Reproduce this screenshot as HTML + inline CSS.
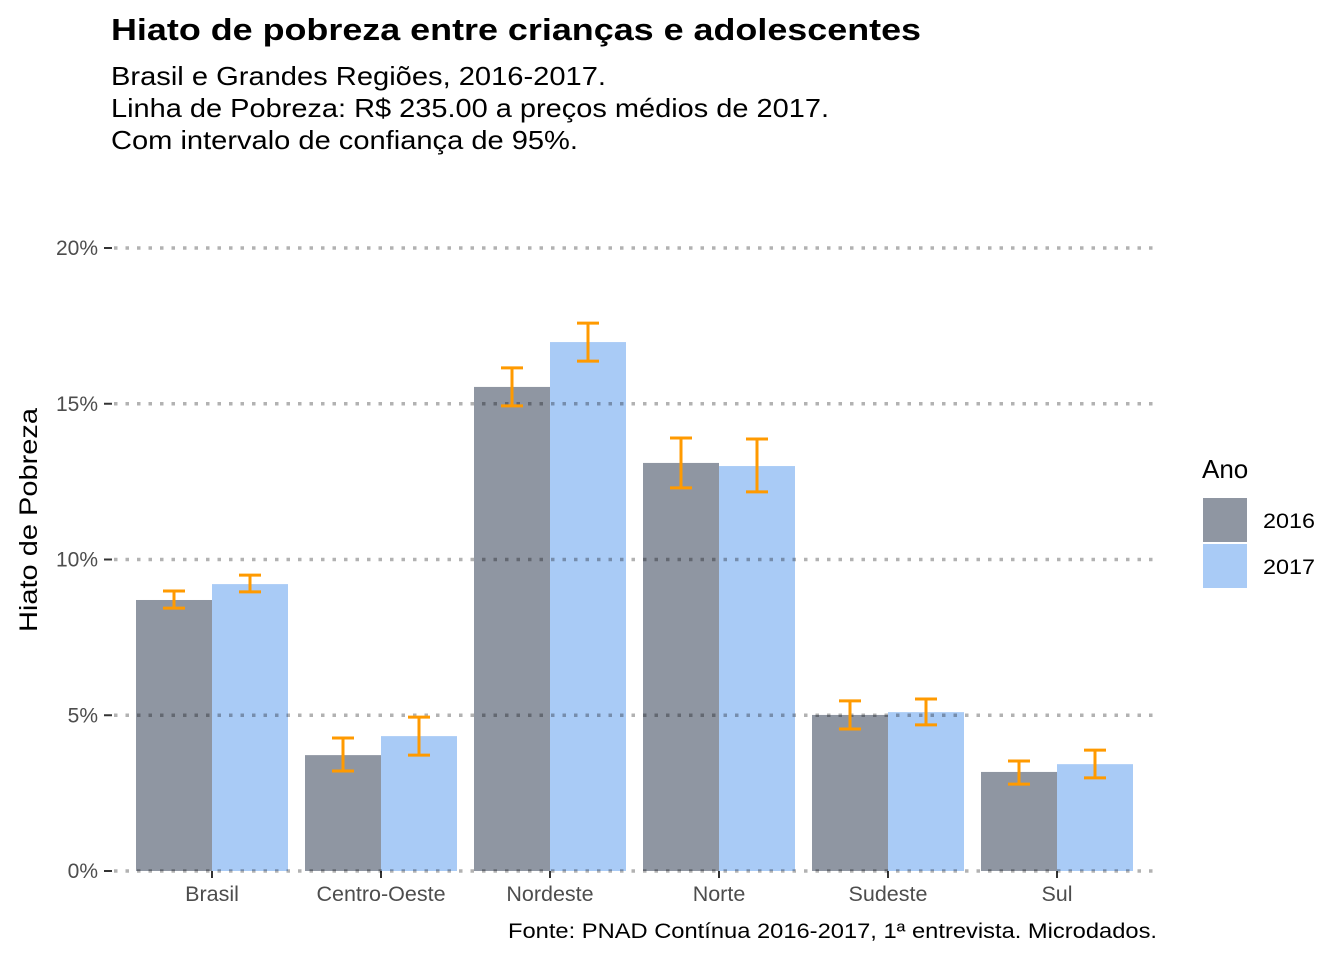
<!DOCTYPE html>
<html><head><meta charset="utf-8"><style>
body{margin:0;background:#fff;font-family:"Liberation Sans",sans-serif}
</style></head><body>
<svg width="1344" height="960" xmlns="http://www.w3.org/2000/svg" font-family="Liberation Sans, sans-serif">
<text x="111" y="40" font-size="31" font-weight="bold" textLength="810" lengthAdjust="spacingAndGlyphs">Hiato de pobreza entre crianças e adolescentes</text>
<text x="111" y="85" font-size="26" textLength="495" lengthAdjust="spacingAndGlyphs">Brasil e Grandes Regiões, 2016-2017.</text>
<text x="111" y="117" font-size="26" textLength="718" lengthAdjust="spacingAndGlyphs">Linha de Pobreza: R$ 235.00 a preços médios de 2017.</text>
<text x="111" y="149" font-size="26" textLength="467" lengthAdjust="spacingAndGlyphs">Com intervalo de confiança de 95%.</text>
<g id="plot"></g>
<text transform="translate(37,520) rotate(-90)" text-anchor="middle" font-size="25" textLength="224" lengthAdjust="spacingAndGlyphs">Hiato de Pobreza</text>
<text x="508" y="938" font-size="21" textLength="649" lengthAdjust="spacingAndGlyphs">Fonte: PNAD Contínua 2016-2017, 1ª entrevista. Microdados.</text>
<g>
<text x="1202" y="478" font-size="26">Ano</text>
<rect x="1203" y="498" width="44" height="44" fill="#8f96a2"/>
<text x="1263" y="528" font-size="21" textLength="52" lengthAdjust="spacingAndGlyphs">2016</text>
<rect x="1203" y="544" width="44" height="44" fill="#a9cbf6"/>
<text x="1263" y="574" font-size="21" textLength="52" lengthAdjust="spacingAndGlyphs">2017</text>
</g>
</svg>
<script>
const categories=["Brasil","Centro-Oeste","Nordeste","Norte","Sudeste","Sul"];
const v2016=[8.7,3.72,15.54,13.1,5.01,3.18];
const lo2016=[8.44,3.21,14.93,12.3,4.56,2.79];
const hi2016=[8.99,4.27,16.15,13.9,5.46,3.53];
const v2017=[9.21,4.33,16.98,13.0,5.1,3.43];
const lo2017=[8.96,3.72,16.37,12.17,4.69,2.99];
const hi2017=[9.5,4.94,17.59,13.87,5.52,3.88];
const yTicks=[0,5,10,15,20];
const yTickLabels=["0%","5%","10%","15%","20%"];
const NS="http://www.w3.org/2000/svg";
const g=document.getElementById("plot");
const y=v=>871-v*31.15;
const step=169, x0=212;
const xc=i=>x0+i*step;
function el(t,a){const e=document.createElementNS(NS,t);for(const k in a)e.setAttribute(k,a[k]);g.appendChild(e);return e;}
yTicks.forEach((t,i)=>{
 const tk=el("line",{x1:104,x2:112,y1:y(t),y2:y(t),stroke:"#333","stroke-width":2});
 
 
 const tx=el("text",{x:98,y:y(t)+7,"text-anchor":"end","font-size":21,fill:"#4d4d4d"});
 tx.textContent=yTickLabels[i];
 
 
});
const series=[[v2016,lo2016,hi2016,"#8f96a2",-1],[v2017,lo2017,hi2017,"#a9cbf6",0]];
categories.forEach((c,i)=>{
 series.forEach((s,j)=>{
  const left=xc(i)+s[4]*76;
  const r=el("rect",{x:left,y:y(s[0][i]),width:76,height:y(0)-y(s[0][i]),fill:s[3]});
  
  
 });
 const lb=el("text",{x:xc(i),y:901,"text-anchor":"middle","font-size":21.5,fill:"#4d4d4d"});
 lb.textContent=c;
 
 
 const xt=el("line",{x1:xc(i),x2:xc(i),y1:871,y2:878,stroke:"#333","stroke-width":2});
 
 
});
yTicks.forEach(t=>{
 const l=el("line",{x1:114,x2:1158,y1:y(t),y2:y(t),stroke:"rgba(0,0,0,0.3)","stroke-width":3.5,"stroke-dasharray":"3.5 8"});
 
 
});
categories.forEach((c,i)=>{
 series.forEach((s,j)=>{
  const cx=xc(i)+s[4]*76+38;
  const e=el("path",{d:`M${cx-11},${y(s[2][i])}H${cx+11}M${cx},${y(s[2][i])}V${y(s[1][i])}M${cx-11},${y(s[1][i])}H${cx+11}`,stroke:"#ff9a00","stroke-width":3,fill:"none"});
  
  
 });
});
</script>
</body></html>
